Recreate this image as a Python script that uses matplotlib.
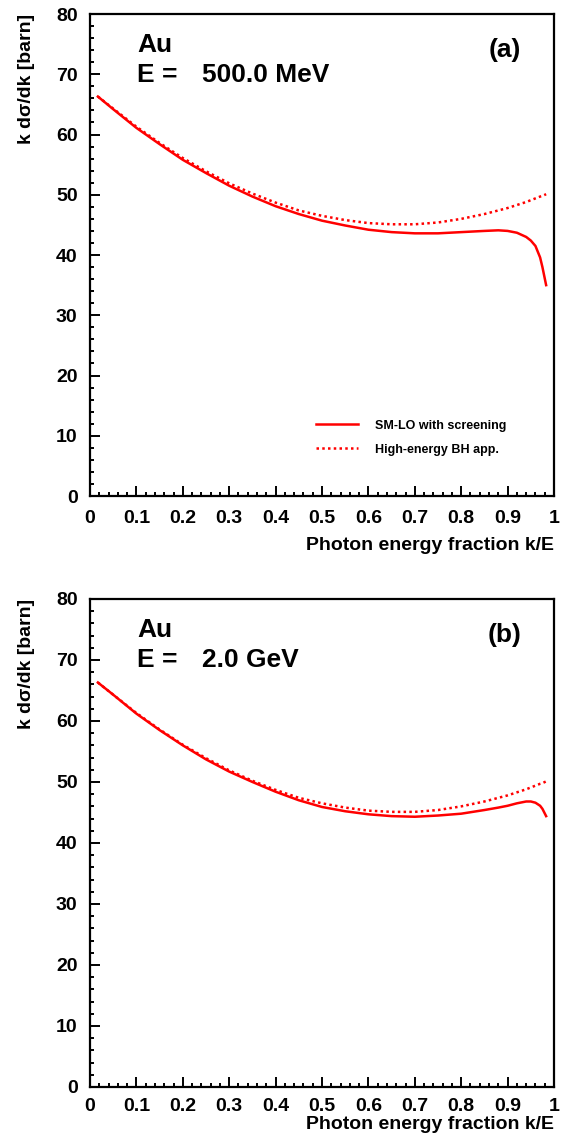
import matplotlib
matplotlib.use("Agg")
import matplotlib.pyplot as plt
from matplotlib.ticker import MultipleLocator

plt.rcParams["font.family"] = ["Liberation Sans", "DejaVu Sans"]
plt.rcParams["font.weight"] = "bold"

# photon energy fraction k/E
k_frac = [0.017, 0.05, 0.1, 0.15, 0.2, 0.25, 0.3, 0.35, 0.4, 0.45, 0.5, 0.55,
          0.6, 0.65, 0.7, 0.75, 0.8, 0.85, 0.88, 0.9, 0.92, 0.94, 0.95, 0.96,
          0.97, 0.975, 0.983]

# high-energy Bethe-Heitler approximation (same in both panels)
bh_app = [66.3, 64.3, 61.3, 58.6, 56.1, 53.9, 51.9, 50.2, 48.7, 47.4, 46.5, 45.8,
          45.3, 45.1, 45.1, 45.4, 46.0, 46.8, 47.4, 47.8, 48.3, 48.8, 49.1, 49.4,
          49.7, 49.8, 50.1]

# SM-LO with screening, E = 500 MeV
sm_500mev = [66.3, 64.2, 61.1, 58.4, 55.8, 53.6, 51.5, 49.7, 48.1, 46.8, 45.7, 44.9,
             44.2, 43.8, 43.6, 43.6, 43.8, 44.0, 44.1, 44.0, 43.7, 43.0, 42.4, 41.5,
             39.6, 38.0, 35.0]

# SM-LO with screening, E = 2 GeV
sm_2gev = [66.3, 64.3, 61.2, 58.5, 56.0, 53.7, 51.7, 50.0, 48.4, 47.0, 45.9, 45.2,
           44.7, 44.4, 44.3, 44.5, 44.8, 45.4, 45.8, 46.1, 46.5, 46.8, 46.8, 46.6,
           46.1, 45.6, 44.4]

x_ticks = [0, 0.1, 0.2, 0.3, 0.4, 0.5, 0.6, 0.7, 0.8, 0.9, 1]
x_tick_labels = ["0", "0.1", "0.2", "0.3", "0.4", "0.5", "0.6", "0.7", "0.8", "0.9", "1"]

panels = [
    ("500.0 MeV", "(a)", sm_500mev, [0.1596, 0.5649, 0.8227, 0.4228], 7),
    ("2.0 GeV", "(b)", sm_2gev, [0.1596, 0.0465, 0.8227, 0.4281], 1),
]

fig = plt.figure(figsize=(5.64, 11.4), dpi=100)

for energy, tag, sm, rect, xpad in panels:
    ax = fig.add_axes(rect)
    ax.plot(k_frac, sm, color="red", lw=1.8, label="SM-LO with screening")
    ax.plot(k_frac, bh_app, color="red", lw=1.8, linestyle=(0, (1, 1.3)),
            label="High-energy BH app.")
    ax.set_xlim(0, 1)
    ax.set_ylim(0, 80)
    ax.xaxis.set_minor_locator(MultipleLocator(0.02))
    ax.yaxis.set_major_locator(MultipleLocator(10))
    ax.yaxis.set_minor_locator(MultipleLocator(2))
    ax.set_xticks(x_ticks)
    ax.set_xticklabels(x_tick_labels)
    ax.tick_params(which="both", direction="in", top=False, right=False,
                   width=1.4, labelsize=14)
    ax.tick_params(which="major", length=7)
    ax.tick_params(which="minor", length=3)
    ax.tick_params(axis="x", which="major", pad=10 if xpad > 3 else 8)
    ax.tick_params(axis="y", which="major", pad=9)
    for s in ax.spines.values():
        s.set_linewidth(1.6)
    ax.set_xlabel("Photon energy fraction k/E", fontsize=14, fontweight="bold",
                  loc="right", labelpad=xpad)
    ax.set_ylabel("k d\u03c3/dk [barn]", fontsize=14, fontweight="bold",
                  loc="top", labelpad=15)

    # text offsets measured from the top of the frame
    h_px = rect[3] * 1140
    ax.text(0.101, 1 - 38 / h_px, "Au", transform=ax.transAxes, fontsize=19,
            fontweight="bold", va="baseline")
    ax.text(0.101, 1 - 68 / h_px, "E =", transform=ax.transAxes, fontsize=19,
            fontweight="bold", va="baseline")
    ax.text(0.241, 1 - 68 / h_px, energy, transform=ax.transAxes, fontsize=19,
            fontweight="bold", va="baseline")
    ax.text(0.929, 1 - 36 / h_px, tag, transform=ax.transAxes, fontsize=19,
            fontweight="bold", va="center", ha="right")
    if tag == "(a)":
        ax.legend(loc="center left", bbox_to_anchor=(0.487, 0.121), frameon=False,
                  handlelength=3.4, handletextpad=1.3, labelspacing=0.95,
                  borderpad=0, borderaxespad=0,
                  prop={"weight": "bold", "size": 9})

fig.savefig("out.png", dpi=100)
